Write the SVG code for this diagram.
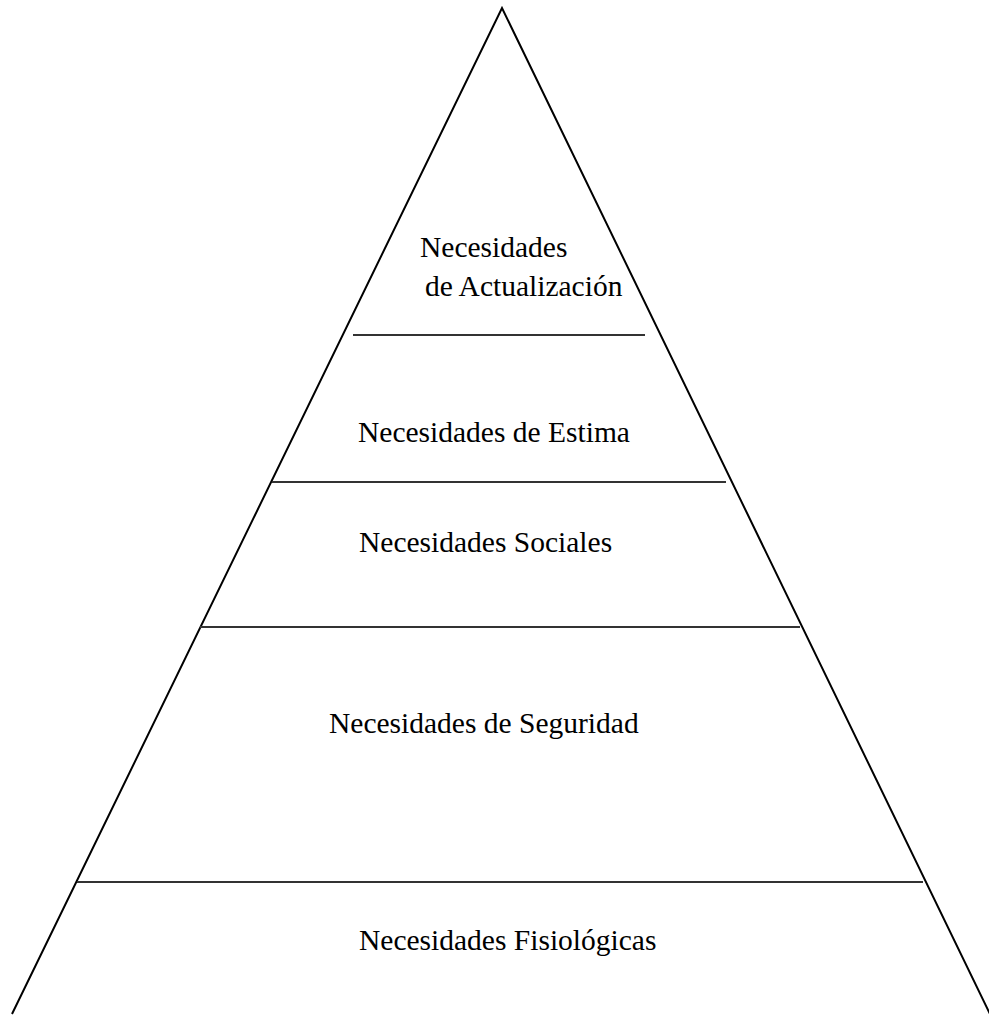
<svg xmlns="http://www.w3.org/2000/svg" width="989" height="1015" viewBox="0 0 989 1015">
<style>
.edge{stroke:#000;stroke-width:2;fill:none}
.div{stroke:#333;stroke-width:2;fill:none}
text{font-family:"Liberation Serif","Times New Roman",serif;font-size:29.5px;fill:#000}
</style>
<rect width="989" height="1015" fill="#fff"/>
<g id="pyramid">
<polyline class="edge" points="12,1014 502,8 990,1014"/>
</g>
<g id="connectors">
<line class="div" x1="353" y1="335" x2="645" y2="335"/>
<line class="div" x1="272" y1="482" x2="726" y2="482"/>
<line class="div" x1="200" y1="627" x2="800" y2="627"/>
<line class="div" x1="77" y1="882" x2="923" y2="882"/>
</g>
<g id="n-actualizacion">
<text x="420" y="257">Necesidades</text>
<text x="425" y="296">de Actualización</text>
</g>
<g id="n-estima"><text x="358" y="442">Necesidades de Estima</text></g>
<g id="n-sociales"><text x="359" y="552">Necesidades Sociales</text></g>
<g id="n-seguridad"><text x="329" y="733">Necesidades de Seguridad</text></g>
<g id="n-fisiologicas"><text x="359" y="950">Necesidades Fisiológicas</text></g>
</svg>
